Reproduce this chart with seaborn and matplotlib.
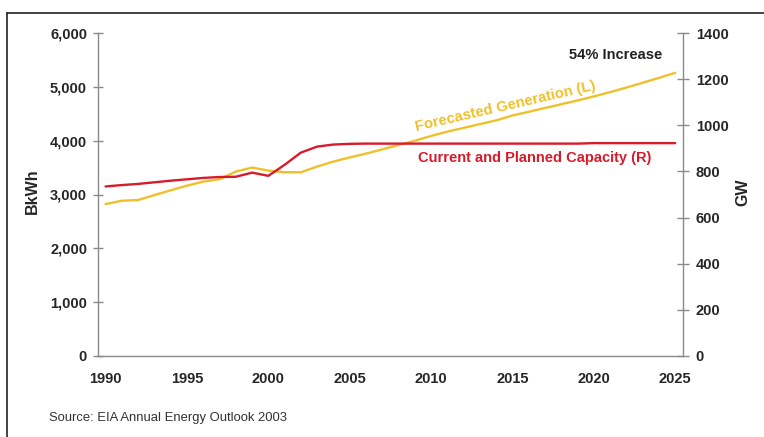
import matplotlib
matplotlib.use("Agg")
import matplotlib.pyplot as plt
import seaborn as sns
import pandas as pd
from matplotlib.lines import Line2D
from matplotlib.ticker import FuncFormatter, FixedLocator

sns.set_style("white")
plt.rcParams['font.family'] = ['Liberation Sans', 'DejaVu Sans']

years = list(range(1990, 2026))
generation_bkwh = [2822, 2884, 2897, 2990, 3078, 3165, 3240, 3284, 3427, 3501,
                   3445, 3414, 3414, 3520, 3613, 3690, 3760, 3840, 3920, 4000,
                   4090, 4170, 4240, 4310, 4380, 4470, 4540, 4610, 4680, 4750,
                   4825, 4905, 4990, 5080, 5170, 5265]
capacity_gw = [735, 741, 746, 753, 760, 766, 772, 776, 777, 795,
               781, 829, 882, 908, 917, 920, 921, 921, 921, 921,
               921, 921, 921, 921, 921, 921, 921, 921, 921, 921,
               923, 923, 923, 923, 923, 923]
x_labels = [1990, 1995, 2000, 2005, 2010, 2015, 2020, 2025]
left_ticks = [0, 1000, 2000, 3000, 4000, 5000, 6000]
right_ticks = [0, 200, 400, 600, 800, 1000, 1200, 1400]

YELLOW = "#F0C02A"
RED = "#D81B2B"
SPINE = "#8A8A8A"

df = pd.DataFrame({"year": years, "gen": generation_bkwh, "cap": capacity_gw})

W, H = 764, 437
fig = plt.figure(figsize=(W / 100, H / 100), dpi=100)
ax = fig.add_axes([97.5 / W, 81.3 / H, 585.8 / W, 322.4 / H])
ax2 = ax.twinx()

sns.lineplot(data=df, x="year", y="gen", ax=ax, color=YELLOW, linewidth=1.7)
sns.lineplot(data=df, x="year", y="cap", ax=ax2, color=RED, linewidth=1.7)

ax.set_xlim(1989.5, 2025.5)
ax.set_ylim(0, 6000)
ax2.set_ylim(0, 1400)

for a in (ax, ax2):
    a.set_xlabel("")
    a.set_ylabel("")
    for s in a.spines.values():
        s.set_color(SPINE)
        s.set_linewidth(1.0)
    a.spines["top"].set_visible(False)
ax.spines["right"].set_visible(False)
ax2.spines["left"].set_visible(False)
ax2.spines["bottom"].set_visible(False)

ax.set_xticks(x_labels)
ax.set_xticklabels([str(v) for v in x_labels], fontweight="bold", fontsize=10.5)
ax.tick_params(axis="x", which="major", length=0, pad=12)
ax.xaxis.set_minor_locator(FixedLocator([y + 0.5 for y in years[:-1]]))
ax.tick_params(axis="x", which="minor", direction="inout", length=8, width=1, color=SPINE)

ax.set_yticks(left_ticks)
ax.yaxis.set_major_formatter(FuncFormatter(lambda v, p: f"{int(v):,}"))
ax.tick_params(axis="y", direction="inout", length=7, width=1, color=SPINE, pad=4, labelsize=10.5)
for t in ax.get_yticklabels():
    t.set_fontweight("bold")

ax2.set_yticks(right_ticks)
ax2.set_yticklabels([str(v) for v in right_ticks], fontweight="bold", fontsize=10.5)
ax2.tick_params(axis="y", direction="inout", length=8, width=1, color=SPINE, pad=5)

fig.text(32 / W, 1 - 191 / H, "BkWh", rotation=90, ha="center", va="center",
         fontsize=11.5, fontweight="bold")
fig.text(743 / W, 1 - 192 / H, "GW", rotation=90, ha="center", va="center",
         fontsize=11.5, fontweight="bold")

fig.text(615.5 / W, 1 - 55 / H, "54% Increase", ha="center", va="center",
         fontsize=10.5, fontweight="bold", color="#222222")
fig.text(535 / W, 1 - 158 / H, "Current and Planned Capacity (R)", ha="center", va="center",
         fontsize=10.5, fontweight="bold", color=RED)
fig.text(505 / W, 1 - 106 / H, "Forecasted Generation (L)", ha="center", va="center",
         rotation=13, rotation_mode="anchor",
         fontsize=10.7, fontweight="bold", color=YELLOW)

fig.text(49 / W, 1 - 418 / H, "Source: EIA Annual Energy Outlook 2003", ha="left", va="center",
         fontsize=9.4, color="#333333")

fig.add_artist(Line2D([7 / W, 7 / W], [0, 1 - 12.5 / H], transform=fig.transFigure,
                      color="#222222", linewidth=1.2))
fig.add_artist(Line2D([7 / W, 1], [1 - 12.5 / H, 1 - 12.5 / H], transform=fig.transFigure,
                      color="#222222", linewidth=1.2))

fig.savefig("out.png", dpi=100)
